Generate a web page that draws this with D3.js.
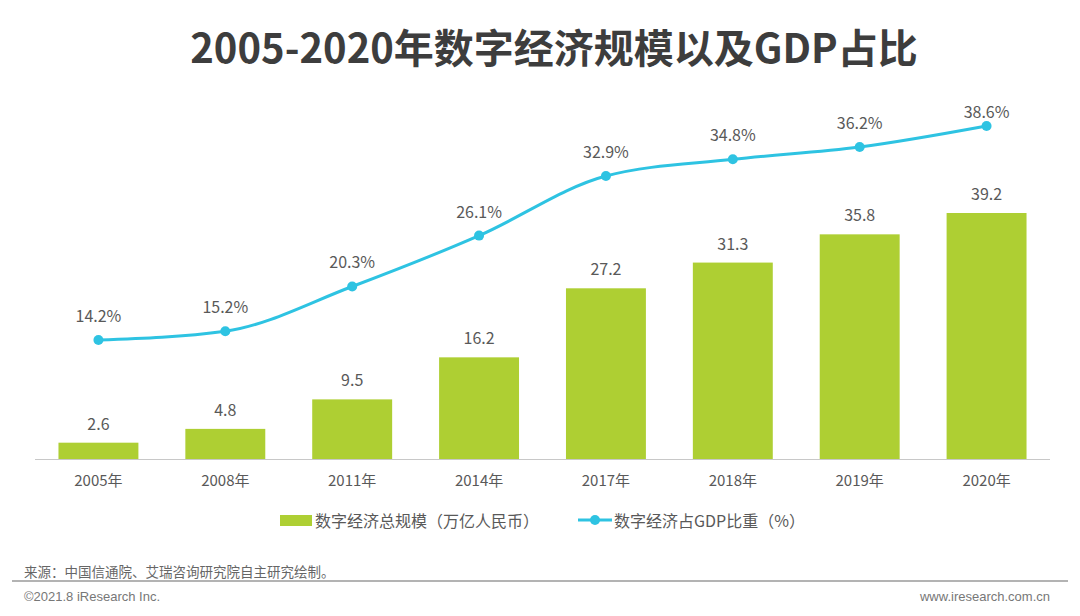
<!DOCTYPE html>
<html>
<head>
<meta charset="utf-8">
<script src="https://cdn.jsdelivr.net/npm/d3@7"></script>
<style>
  body { margin: 0; background: #fff; }
  svg text { font-family: "Noto Sans CJK SC", "Open Sans", sans-serif; }
</style>
</head>
<body>
<div id="chart"></div>
<script>
const years = ["2005年", "2008年", "2011年", "2014年", "2017年", "2018年", "2019年", "2020年"]
const scaleValues = [2.6, 4.8, 9.5, 16.2, 27.2, 31.3, 35.8, 39.2]
const gdpShare = [14.2, 15.2, 20.3, 26.1, 32.9, 34.8, 36.2, 38.6]

const W = 1080, H = 616
const barColor = "#aecf33"
const lineColor = "#2ec3e2"
const textColor = "#595959"

const svg = d3.select("#chart").append("svg")
    .attr("width", W)
    .attr("height", H)

svg.append("text")
    .attr("x", 554)
    .attr("y", 63)
    .attr("text-anchor", "middle")
    .attr("font-size", 40)
    .attr("font-weight", "bold")
    .attr("fill", "#3d3d3d")
    .text("2005-2020年数字经济规模以及GDP占比")

const baseY = 459
const x = d3.scaleBand().domain(years).range([35, 1050]).paddingInner(0.37).paddingOuter(0.185)
const y = d3.scaleLinear().domain([0, 39.2]).range([baseY, 213])
const y2 = d3.scaleLinear().domain([0, 38.6]).range([464.5, 126])

// bars
svg.selectAll("rect.bar").data(scaleValues).enter()
    .append("rect")
    .attr("class", "bar")
    .attr("x", (d, i) => x(years[i]))
    .attr("y", d => y(d))
    .attr("width", x.bandwidth())
    .attr("height", d => baseY - y(d))
    .attr("fill", barColor)

svg.selectAll("text.barlabel").data(scaleValues).enter()
    .append("text")
    .attr("x", (d, i) => x(years[i]) + x.bandwidth() / 2)
    .attr("y", d => y(d) - 13)
    .attr("text-anchor", "middle")
    .attr("font-size", 16)
    .attr("fill", textColor)
    .text(d => d.toFixed(1))

// axis
const xAxis = svg.append("g")
    .attr("transform", `translate(0, ${baseY})`)
    .call(d3.axisBottom(x).tickSize(0).tickPadding(16))
xAxis.select(".domain").attr("stroke", "#c8c8c8").attr("d", "M35,0.5H1050")
xAxis.selectAll("text")
    .attr("font-size", 15)
    .attr("fill", textColor)
    .style("font-family", "'Noto Sans CJK SC', sans-serif")

// line
const cx = (d, i) => x(years[i]) + x.bandwidth() / 2
const line = d3.line()
    .x(cx)
    .y(d => y2(d))
    .curve(d3.curveMonotoneX)

svg.append("path")
    .datum(gdpShare)
    .attr("d", line)
    .attr("fill", "none")
    .attr("stroke", lineColor)
    .attr("stroke-width", 3)

svg.selectAll("circle.pt").data(gdpShare).enter()
    .append("circle")
    .attr("cx", cx)
    .attr("cy", d => y2(d))
    .attr("r", 5)
    .attr("fill", lineColor)

// last label sits a little closer to its point, as in the original
svg.selectAll("text.ptlabel").data(gdpShare).enter()
    .append("text")
    .attr("x", cx)
    .attr("y", (d, i) => y2(d) - (i == gdpShare.length - 1 ? 8 : 18))
    .attr("text-anchor", "middle")
    .attr("font-size", 16)
    .attr("fill", textColor)
    .text(d => d.toFixed(1) + "%")

// legend
const leg = svg.append("g")
leg.append("rect")
    .attr("x", 280).attr("y", 515).attr("width", 32).attr("height", 11)
    .attr("fill", barColor)
leg.append("text")
    .attr("x", 315).attr("y", 527)
    .attr("font-size", 16).attr("fill", textColor)
    .text("数字经济总规模（万亿人民币）")
leg.append("line")
    .attr("x1", 578).attr("x2", 612).attr("y1", 520).attr("y2", 520)
    .attr("stroke", lineColor).attr("stroke-width", 3)
leg.append("circle")
    .attr("cx", 595).attr("cy", 520).attr("r", 5).attr("fill", lineColor)
leg.append("text")
    .attr("x", 614).attr("y", 527)
    .attr("font-size", 16).attr("fill", textColor)
    .text("数字经济占GDP比重（%）")

// footer
svg.append("text")
    .attr("x", 24).attr("y", 577)
    .attr("font-size", 13.5).attr("fill", "#666")
    .text("来源：中国信通院、艾瑞咨询研究院自主研究绘制。")
svg.append("line")
    .attr("x1", 12).attr("x2", 1068).attr("y1", 581).attr("y2", 581)
    .attr("stroke", "#9a9a9a").attr("stroke-width", 1.5)
svg.append("text")
    .attr("x", 24).attr("y", 601)
    .attr("font-size", 13).attr("fill", "#777")
    .style("font-family", "'Liberation Sans', Arial, sans-serif")
    .text("©2021.8 iResearch Inc.")
svg.append("text")
    .attr("x", 1050).attr("y", 601)
    .attr("text-anchor", "end")
    .attr("font-size", 13).attr("fill", "#777")
    .style("font-family", "'Liberation Sans', Arial, sans-serif")
    .text("www.iresearch.com.cn")
</script>
</body>
</html>
